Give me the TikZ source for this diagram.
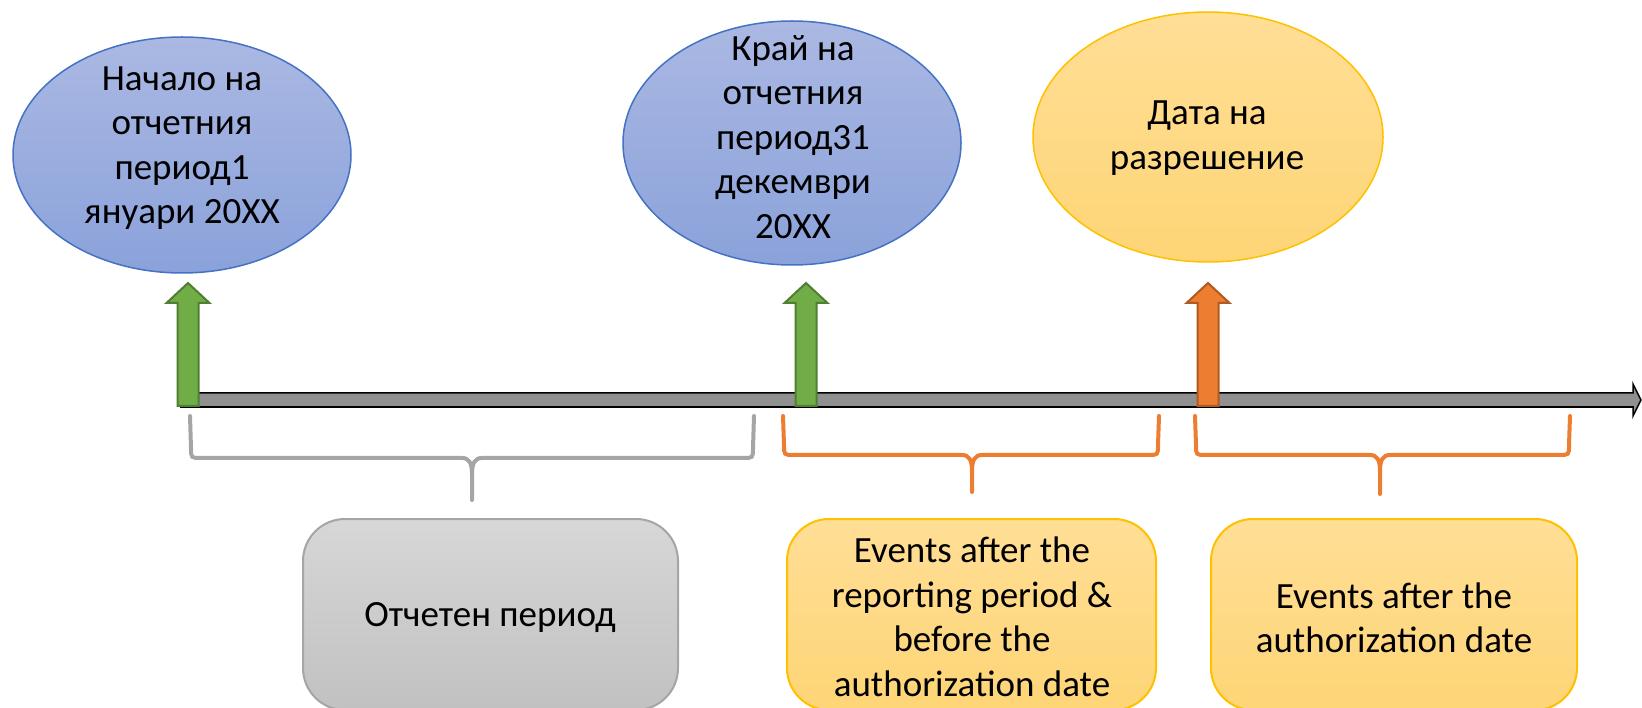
\documentclass[tikz,border=0pt]{standalone}
\usepackage{fontspec}
\setmainfont{Carlito}
\usetikzlibrary{shapes.geometric}
\definecolor{bluetop}{RGB}{171,184,227}
\definecolor{bluebot}{RGB}{138,162,218}
\definecolor{blueline}{RGB}{68,114,196}
\definecolor{orgtop}{RGB}{255,222,150}
\definecolor{orgbot}{RGB}{254,213,118}
\definecolor{orgline}{RGB}{255,192,0}
\definecolor{graytop}{RGB}{215,215,215}
\definecolor{graybot}{RGB}{193,193,193}
\definecolor{grayline}{RGB}{165,165,165}
\definecolor{grn}{RGB}{112,173,71}
\definecolor{grnline}{RGB}{80,126,50}
\definecolor{org}{RGB}{237,125,49}
\definecolor{orgdark}{RGB}{174,90,33}
\definecolor{bar}{RGB}{144,144,144}
\tikzset{
  txt/.style={font=\fontsize{37}{44.5}\selectfont, align=center, inner sep=0pt},
  blueell/.style={ellipse, draw=blueline, line width=1.5pt, top color=bluetop, bottom color=bluebot, inner sep=0pt},
  orgell/.style={ellipse, draw=orgline, line width=1.5pt, top color=orgtop, bottom color=orgbot, inner sep=0pt},
  graybox/.style={draw=grayline, line width=2pt, rounded corners=42pt, top color=graytop, bottom color=graybot},
  orgbox/.style={draw=orgline, line width=2pt, rounded corners=42pt, top color=orgtop, bottom color=orgbot},
  greenarrow/.style={fill=grn, draw=grnline, line width=2pt, line join=miter},
  orangearrow/.style={fill=org, draw=orgdark, line width=2pt, line join=miter},
  graybrace/.style={draw=grayline, line width=4pt, line cap=round},
  orgbrace/.style={draw=org, line width=4pt, line cap=round},
}
\begin{document}
\begin{tikzpicture}[x=1pt,y=-1pt]
\useasboundingbox (0,0) rectangle (1642,708);

% ellipses
\node[blueell, minimum width=338pt, minimum height=236pt] (e1) at (182,155) {};
\node[txt] (t1) at (182,148) {Начало на\\отчетния\\период1\\януари 20XX};
\node[blueell, minimum width=338pt, minimum height=244pt] (e2) at (792,143) {};
\node[txt] (t2) at (793,137) {Край на\\отчетния\\период31\\декември\\20XX};
\node[orgell, minimum width=350pt, minimum height=250pt] (e3) at (1208,137) {};
\node[txt] (t3) at (1207,138) {Дата на\\разрешение};

% timeline
\fill[bar] (180,393) -- (1633,393) -- (1633,384) -- (1641,400) -- (1633,416) -- (1633,407) -- (180,407) -- cycle;
\draw[black, line width=1.5pt, line join=miter] (180,393) -- (1633,393) -- (1633,384) -- (1641,400) -- (1633,416) -- (1633,407) -- (180,407);
\draw[black, line width=2.5pt] (180,407) -- (1633,407);

% block arrows
\begin{scope}[shift={(188,406)}]
\draw[greenarrow] (-10.5,0) -- (-10.5,-103) -- (-21.5,-103) -- (0,-123) -- (21.5,-103) -- (10.5,-103) -- (10.5,0) -- cycle;
\end{scope}
\begin{scope}[shift={(806,406)}]
\draw[greenarrow] (-10.5,0) -- (-10.5,-103) -- (-21.5,-103) -- (0,-123) -- (21.5,-103) -- (10.5,-103) -- (10.5,0) -- cycle;
\end{scope}
\begin{scope}[shift={(1208,406)}]
\draw[orangearrow] (-10.5,0) -- (-10.5,-103) -- (-21.5,-103) -- (0,-123) -- (21.5,-103) -- (10.5,-103) -- (10.5,0) -- cycle;
\end{scope}

% braces
\draw[graybrace] (190,416) -- (191,448) .. controls (191,458) .. (201,458) -- (462,458) .. controls (469,458) and (472,463) .. (472,474) -- (472,500);
\draw[graybrace] (754,416) -- (753,448) .. controls (753,458) .. (743,458) -- (482,458) .. controls (475,458) and (472,463) .. (472,474);

\draw[orgbrace] (783,416) -- (784,445) .. controls (784,455) .. (794,455) -- (962,455) .. controls (969,455) and (972,460) .. (972,471) -- (972,492);
\draw[orgbrace] (1159,416) -- (1158,445) .. controls (1158,455) .. (1148,455) -- (982,455) .. controls (975,455) and (972,460) .. (972,471);

\draw[orgbrace] (1195,416) -- (1196,445) .. controls (1196,455) .. (1206,455) -- (1370,455) .. controls (1377,455) and (1380,460) .. (1380,471) -- (1380,494);
\draw[orgbrace] (1570,416) -- (1569,445) .. controls (1569,455) .. (1559,455) -- (1390,455) .. controls (1383,455) and (1380,460) .. (1380,471);

% boxes
\draw[graybox] (303,519) rectangle (678,710);
\node[txt] (b1) at (490,618) {Отчетен период};
\draw[orgbox] (787,519) rectangle (1156,710);
\node[txt] (b2) at (972,617) {Events after the\\reporting period \&\\before the\\authorization date};
\draw[orgbox] (1211,519) rectangle (1577,710);
\node[txt] (b3) at (1394,618) {Events after the\\authorization date};
\end{tikzpicture}
\end{document}
